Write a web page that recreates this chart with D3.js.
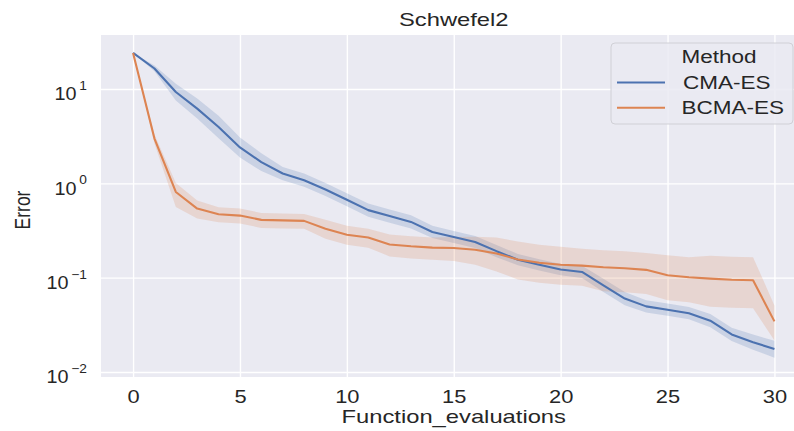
<!DOCTYPE html>
<html>
<head>
<meta charset="utf-8">
<script src="https://cdn.jsdelivr.net/npm/d3@7"></script>
<style>
  html, body { margin: 0; padding: 0; background: #ffffff; }
  svg { display: block; }
  text { font-family: "Liberation Sans", Arial, sans-serif; fill: #262626; }
</style>
</head>
<body>
<div id="chart"></div>
<script>
// ---------------- data ----------------
const evaluations = d3.range(0, 31);
const cmaMean = [24.1, 16.5, 9.3, 6.2, 3.95, 2.4, 1.68, 1.27, 1.08, 0.86, 0.67, 0.52, 0.45, 0.39, 0.305, 0.27,
  0.239, 0.191, 0.155, 0.137, 0.122, 0.115, 0.083, 0.06, 0.0496, 0.0457, 0.042, 0.035, 0.025, 0.0207, 0.0175];
const cmaUpper = [24.1, 17.7, 11.4, 7.91, 5.21, 3.06, 2.09, 1.49, 1.27, 1.01, 0.787, 0.611, 0.529, 0.458, 0.354, 0.313,
  0.277, 0.222, 0.178, 0.157, 0.140, 0.134, 0.0975, 0.0705, 0.0576, 0.0531, 0.0488, 0.0411, 0.0294, 0.0249, 0.0215];
const cmaLower = [24.1, 15.4, 7.56, 4.86, 3.0, 1.88, 1.35, 1.08, 0.919, 0.732, 0.570, 0.443, 0.383, 0.332, 0.263, 0.233,
  0.206, 0.165, 0.135, 0.119, 0.106, 0.099, 0.0706, 0.0511, 0.0427, 0.0394, 0.0362, 0.0298, 0.0213, 0.0172, 0.0142];
const bcmaMean = [24.1, 2.98, 0.81, 0.54, 0.47, 0.455, 0.41, 0.405, 0.40, 0.33, 0.285, 0.266, 0.225, 0.215, 0.208, 0.206,
  0.198, 0.18, 0.156, 0.144, 0.137, 0.134, 0.129, 0.126, 0.121, 0.106, 0.101, 0.0977, 0.095, 0.094, 0.0344];
const bcmaUpper = [24.1, 3.29, 1.01, 0.657, 0.557, 0.540, 0.486, 0.480, 0.474, 0.411, 0.355, 0.331, 0.287, 0.275, 0.266, 0.269,
  0.272, 0.266, 0.242, 0.223, 0.213, 0.203, 0.195, 0.191, 0.183, 0.173, 0.165, 0.171, 0.167, 0.165, 0.0508];
const bcmaLower = [24.1, 2.64, 0.562, 0.423, 0.387, 0.374, 0.337, 0.333, 0.329, 0.258, 0.223, 0.208, 0.168, 0.160, 0.155, 0.150,
  0.137, 0.116, 0.0957, 0.0883, 0.0840, 0.0822, 0.0718, 0.0701, 0.0673, 0.0576, 0.0549, 0.0492, 0.0479, 0.0474, 0.0216];
const methods = ["CMA-ES", "BCMA-ES"];
const xTicks = [0, 5, 10, 15, 20, 25, 30];
const yTicks = [0.01, 0.1, 1, 10];
const yTickExps = ["\u22122", "\u22121", "0", "1"];
const titleText = "Schwefel2";
const xLabel = "Function_evaluations";
const yLabel = "Error";
const legendTitle = "Method";

// ---------------- layout ----------------
const W = 794, H = 431;
const plot = { left: 101, right: 806.5, top: 35, bottom: 377 };
const colors = { "CMA-ES": "#4c72b0", "BCMA-ES": "#dd8452" };
const SX = 1.25; // horizontal stretch of the reference's text

const svg = d3.select("#chart").append("svg").attr("width", W).attr("height", H);

const x = d3.scaleLinear().domain([-1.5, 31.5]).range([plot.left, plot.right]);
const y = d3.scaleLog().domain([0.00885, 37.36]).range([plot.bottom, plot.top]);

svg.append("defs").append("clipPath").attr("id", "clip")
  .append("rect").attr("x", plot.left).attr("y", plot.top)
  .attr("width", plot.right - plot.left).attr("height", plot.bottom - plot.top);

svg.append("rect").attr("x", plot.left).attr("y", plot.top)
  .attr("width", plot.right - plot.left).attr("height", plot.bottom - plot.top)
  .attr("fill", "#eaeaf2");

// grid
const gx = svg.append("g").attr("transform", `translate(0,${plot.bottom})`)
  .call(d3.axisBottom(x).tickValues(xTicks).tickSize(-(plot.bottom - plot.top)).tickFormat(""));
gx.select(".domain").remove();
gx.selectAll("line").attr("stroke", "#ffffff").attr("stroke-width", 1.4);

const gy = svg.append("g").attr("transform", `translate(${plot.left},0)`)
  .call(d3.axisLeft(y).tickValues(yTicks).tickSize(-(plot.right - plot.left)).tickFormat(""));
gy.select(".domain").remove();
gy.selectAll("line").attr("stroke", "#ffffff").attr("stroke-width", 1.4);

// x tick labels through axis
const gxl = svg.append("g").attr("transform", `translate(0,${plot.bottom})`)
  .call(d3.axisBottom(x).tickValues(xTicks).tickSize(0).tickPadding(0).tickFormat(d3.format("d")));
gxl.select(".domain").remove();
gxl.selectAll("text")
  .attr("y", 0).attr("dy", 0)
  .attr("transform", `translate(0,26) scale(${SX},1)`)
  .attr("font-size", 17.5).attr("font-family", "Liberation Sans, Arial, sans-serif").attr("fill", "#262626");

// y tick labels with superscripts
const gyl = svg.append("g").attr("transform", `translate(${plot.left},0)`)
  .call(d3.axisLeft(y).tickValues(yTicks).tickSize(0).tickFormat(""));
gyl.select(".domain").remove();
gyl.selectAll(".tick").each(function(d, i) {
  const t = d3.select(this).append("text")
    .attr("text-anchor", "end")
    .attr("transform", `translate(-14,11) scale(1.1,1)`)
    .attr("font-size", 18).attr("fill", "#262626")
    .attr("font-family", "DejaVu Sans, sans-serif");
  t.append("tspan").text("10");
  t.append("tspan").attr("dx", 2.5).attr("dy", -10.5).attr("font-size", 12.5).text(yTickExps[i]);
});

// series
const series = [
  { name: "CMA-ES", mean: cmaMean, lo: cmaLower, hi: cmaUpper },
  { name: "BCMA-ES", mean: bcmaMean, lo: bcmaLower, hi: bcmaUpper }
];
const gPlot = svg.append("g").attr("clip-path", "url(#clip)");
const area = d3.area().x((d, i) => x(evaluations[i])).y0(d => y(d[0])).y1(d => y(d[1]));
const line = d3.line().x((d, i) => x(evaluations[i])).y(d => y(d));

series.forEach(s => {
  gPlot.append("path")
    .datum(s.lo.map((v, i) => [v, s.hi[i]]))
    .attr("d", area).attr("fill", colors[s.name]).attr("fill-opacity", 0.2).attr("stroke", "none");
});
series.forEach(s => {
  gPlot.append("path").datum(s.mean).attr("d", line)
    .attr("fill", "none").attr("stroke", colors[s.name]).attr("stroke-width", 2.1)
    .attr("stroke-linejoin", "round").attr("stroke-linecap", "butt");
});

// title & axis labels
const midX = (plot.left + plot.right) / 2;
svg.append("text").attr("transform", `translate(${midX},26) scale(${SX},1)`)
  .attr("text-anchor", "middle").attr("font-size", 19).text(titleText);
svg.append("text").attr("transform", `translate(${midX},423) scale(${SX},1)`)
  .attr("text-anchor", "middle").attr("font-size", 19).text(xLabel);
svg.append("text").attr("transform", `translate(22,${(plot.top + plot.bottom) / 2 + 4}) scale(${SX},1) rotate(-90)`)
  .attr("text-anchor", "middle").attr("dy", "0.35em").attr("font-size", 17.5).text(yLabel);

// legend
const lg = svg.append("g");
lg.append("rect").attr("x", 611).attr("y", 43).attr("width", 182).attr("height", 81).attr("rx", 4)
  .attr("fill", "#eaeaf2").attr("fill-opacity", 0.85).attr("stroke", "#d0d0d6").attr("stroke-width", 1);
lg.append("text").attr("transform", `translate(719,63) scale(${SX},1)`)
  .attr("text-anchor", "middle").attr("font-size", 18).text(legendTitle);
methods.forEach((m, i) => {
  const yy = 82.5 + i * 25.3;
  lg.append("line").attr("x1", 617).attr("x2", 665).attr("y1", yy).attr("y2", yy)
    .attr("stroke", colors[m]).attr("stroke-width", 2);
  lg.append("text").attr("transform", `translate(${683 - i * 1.5},${yy + 6.5}) scale(${SX},1)`)
    .attr("text-anchor", "start").attr("font-size", 18).text(m);
});
</script>
</body>
</html>
